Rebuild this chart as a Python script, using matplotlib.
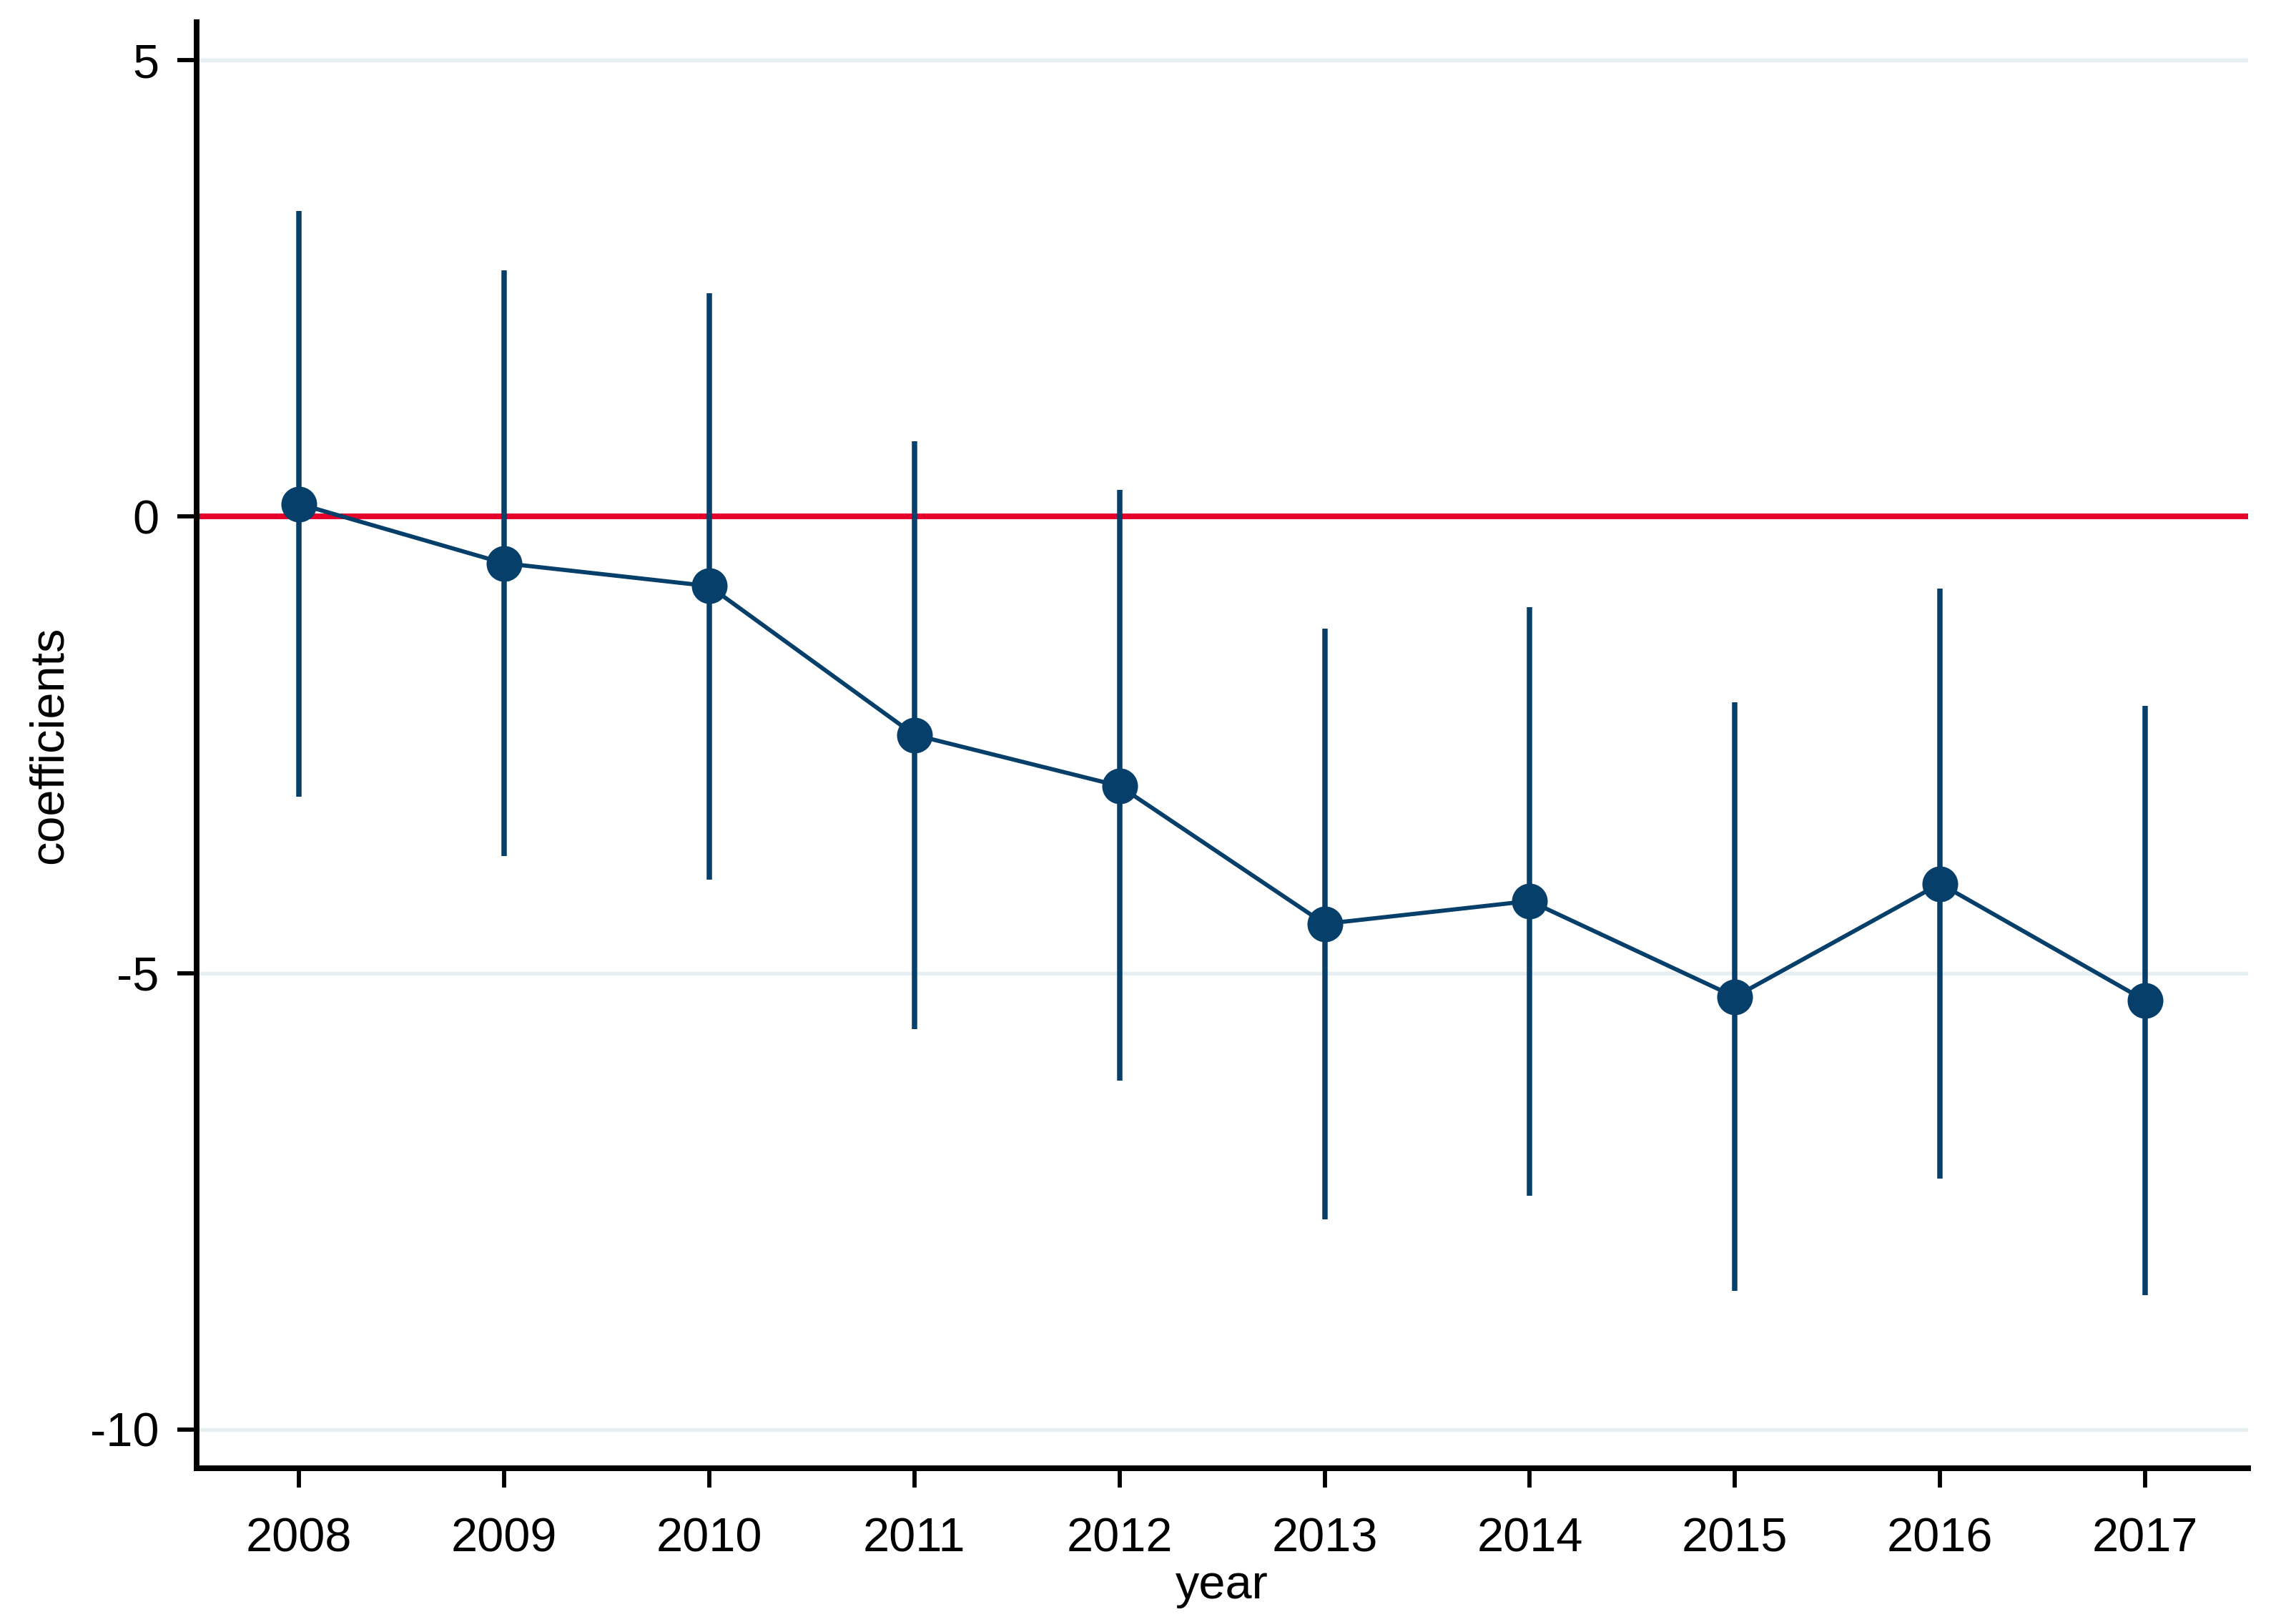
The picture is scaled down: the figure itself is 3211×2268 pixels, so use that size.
import numpy as np
import matplotlib
matplotlib.use("Agg")
import matplotlib.pyplot as plt

# ---------------------------- Data ---------------------------- #
years = [2008, 2009, 2010, 2011, 2012, 2013, 2014, 2015, 2016, 2017]
coefs = [0.14, -0.51, -0.76, -2.39, -2.95, -4.46, -4.21, -5.26, -4.02, -5.30]
ciLow = [-3.07, -3.72, -3.98, -5.61, -6.18, -7.70, -7.44, -8.48, -7.25, -8.53]
ciHigh = [3.35, 2.70, 2.45, 0.83, 0.29, -1.23, -0.99, -2.03, -0.79, -2.07]
yTicks = [5, 0, -5, -10]

# ---------------------------- Style ---------------------------- #
plt.rcParams['font.family'] = ['Liberation Sans', 'DejaVu Sans']
plt.rcParams['axes.unicode_minus'] = False
navy = '#053f6a'
red = '#e4002b'
gridColor = '#e6eff1'

fig = plt.figure(figsize=(3211/300, 2268/300), dpi=300)
ax = fig.add_axes([0.0855, 0.095, 0.8935, 0.8915])

# Light horizontal grid lines at the y ticks
for yt in yTicks:
    if yt != 0:
        ax.axhline(yt, color=gridColor, linewidth=1.3, zorder=0)
# Reference line at zero
ax.axhline(0, color=red, linewidth=1.9, zorder=1)

# Confidence intervals
ax.vlines(years, ciLow, ciHigh, color=navy, linewidth=1.8, zorder=2)
# Point estimates connected by a line
ax.plot(years, coefs, color=navy, linewidth=1.4, marker='o',
        markersize=11, markerfacecolor=navy, markeredgecolor=navy, zorder=3)

# ---------------------------- Axes ---------------------------- #
ax.set_xlim(2007.5, 2017.5)
ax.set_ylim(-10.42, 5.42)
ax.set_xticks(years)
ax.set_xticklabels([str(y) for y in years])
ax.set_yticks(yTicks)
ax.set_yticklabels([str(t) for t in yTicks])

for side in ['top', 'right']:
    ax.spines[side].set_visible(False)
for side in ['left', 'bottom']:
    ax.spines[side].set_linewidth(1.9)
    ax.spines[side].set_color('black')

ax.tick_params(axis='both', which='major', direction='out', width=1.4,
               length=6.5, labelsize=16, colors='black')
ax.tick_params(axis='x', pad=10)
ax.tick_params(axis='y', pad=6)
ax.set_xlabel('year', fontsize=16, labelpad=1)
ax.set_ylabel('coefficients', fontsize=16, labelpad=6)

fig.savefig('out.png', dpi=300, facecolor='white')
